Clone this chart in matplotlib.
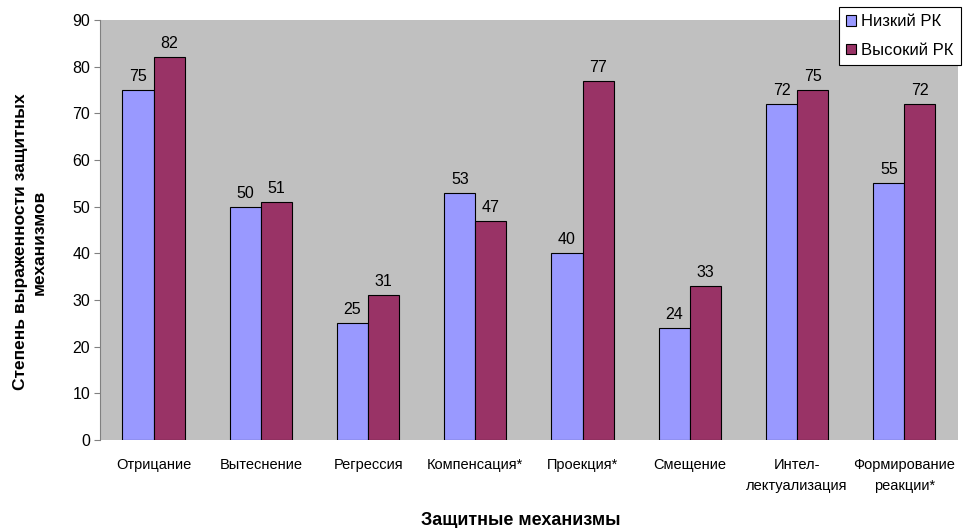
import numpy as np
import matplotlib
matplotlib.use('Agg')
import matplotlib.pyplot as plt

plt.rcParams['font.family'] = ['Liberation Sans', 'DejaVu Sans']

# данные
categories = ['Отрицание', 'Вытеснение', 'Регрессия', 'Компенсация*', 'Проекция*',
              'Смещение', 'Интел-\nлектуализация', 'Формирование\nреакции*']
low_rk = [75, 50, 25, 53, 40, 24, 72, 55]
high_rk = [82, 51, 31, 47, 77, 33, 75, 72]
series_names = ['Низкий РК', 'Высокий РК']

fig = plt.figure(figsize=(9.64, 5.28), dpi=100)
ax = fig.add_axes([0.1037, 0.1667, 0.890, 0.7955])
ax.set_facecolor('#C0C0C0')

x = np.arange(len(categories))
w = 0.29
b1 = ax.bar(x - w / 2, low_rk, w, color='#9999FF', edgecolor='black', linewidth=0.8,
            label=series_names[0])
b2 = ax.bar(x + w / 2, high_rk, w, color='#993366', edgecolor='black', linewidth=0.8,
            label=series_names[1])

for bars in (b1, b2):
    for r in bars:
        v = r.get_height()
        ax.text(r.get_x() + r.get_width() / 2, v + 1.3, str(int(v)),
                ha='center', va='bottom', fontsize=11.5)

ax.set_xlim(-0.5, len(categories) - 0.5)
ax.set_ylim(0, 90)
ax.set_yticks(range(0, 91, 10))
ax.set_xticks(x)
ax.set_xticklabels(categories, fontsize=10.5, linespacing=1.6)
ax.tick_params(axis='x', length=0, pad=13)
ax.tick_params(axis='y', labelsize=11.5, length=4, color='#808080', pad=3)

for s in ['top', 'right', 'bottom']:
    ax.spines[s].set_visible(False)
ax.spines['left'].set_color('#808080')

ax.set_ylabel('Степень выраженности защитных\nмеханизмов', fontsize=12.5,
              fontweight='bold', linespacing=1.3)
ax.yaxis.set_label_coords(-0.062, 0.471)
fig.text(0.54, 0.015, 'Защитные механизмы', fontsize=13, fontweight='bold',
         ha='center', va='center')

leg = ax.legend(loc='upper right', bbox_to_anchor=(1.004, 1.031), fontsize=12,
                frameon=True, fancybox=False, edgecolor='black', framealpha=1,
                handlelength=0.6, handleheight=0.6, handletextpad=0.3,
                borderpad=0.45, labelspacing=0.8, borderaxespad=0.0)
leg.get_frame().set_linewidth(0.8)

fig.savefig('out.png', dpi=100)
